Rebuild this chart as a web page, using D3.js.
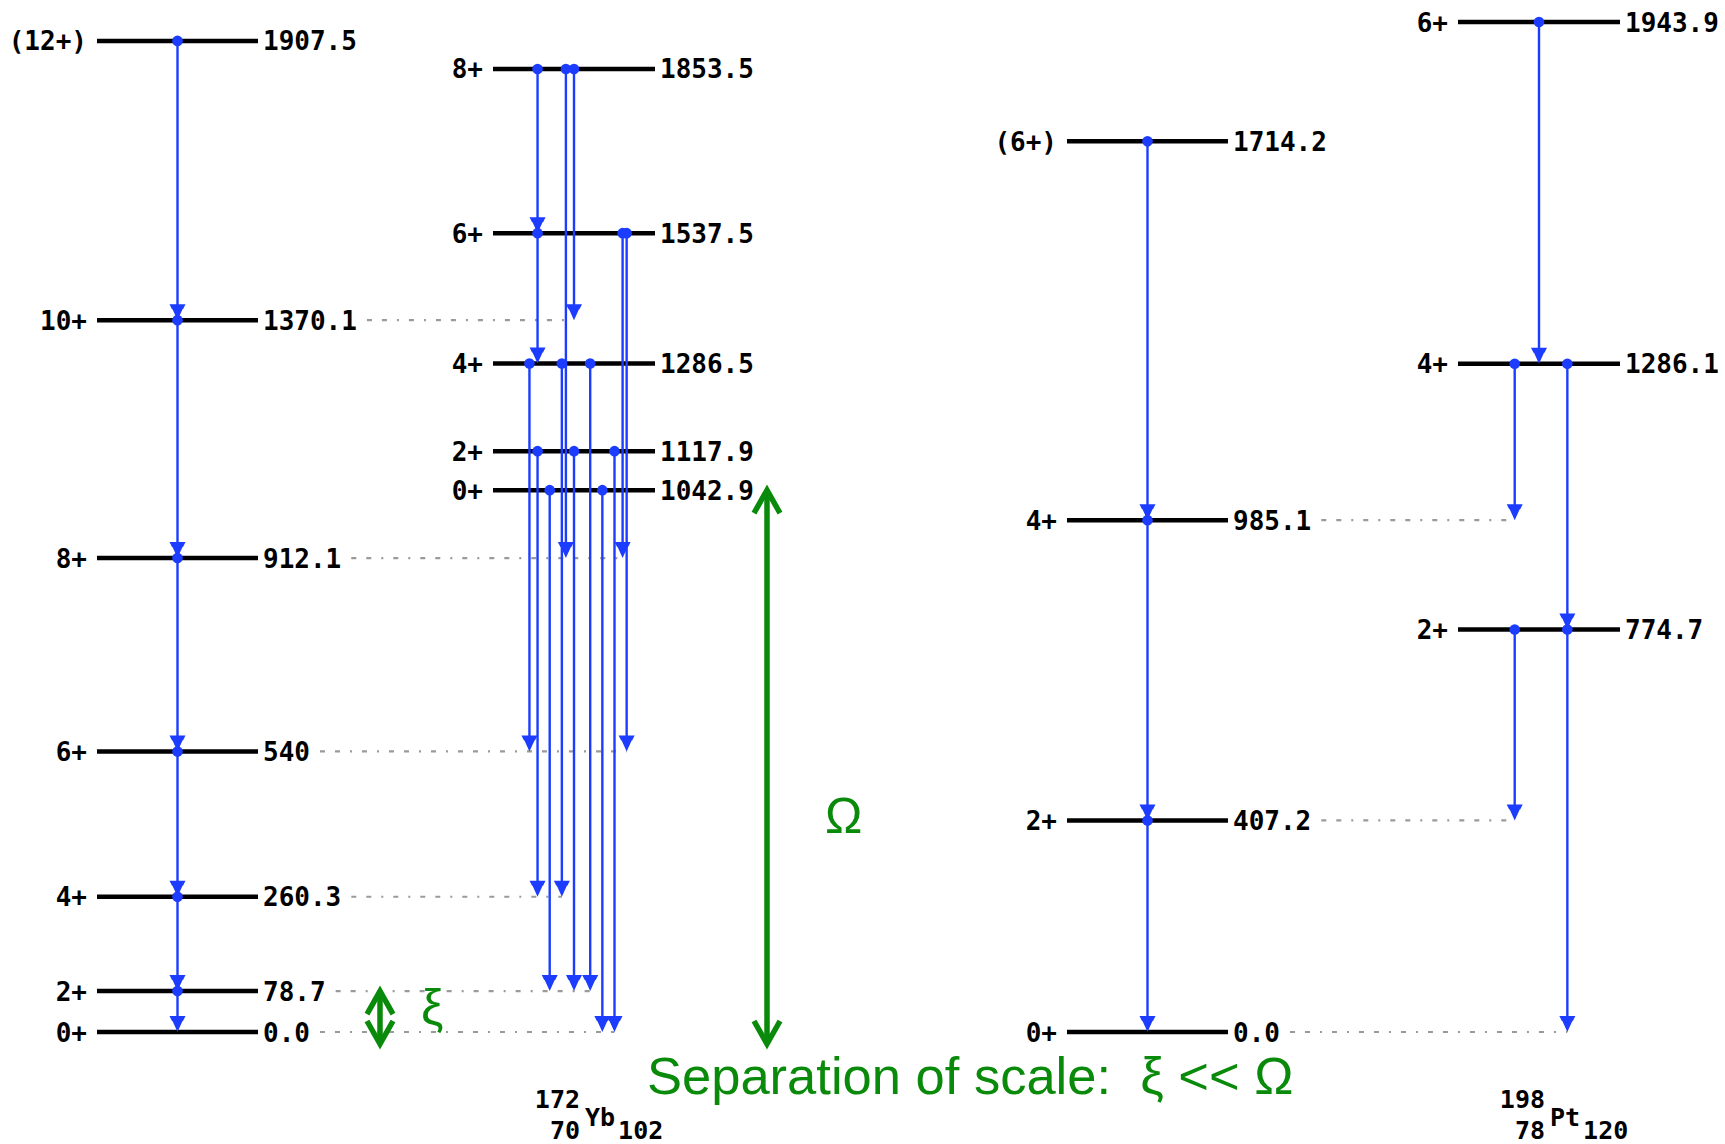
<!DOCTYPE html>
<html>
<head>
<meta charset="utf-8">
<script src="https://cdn.jsdelivr.net/npm/d3@7"></script>
<style>
  body { margin: 0; background: #fff; }
  svg { display: block; background: #fff; }
  .lvl { font-family: "DejaVu Sans Mono", monospace; font-weight: bold; font-size: 26px; fill: #000; }
  .nuc { font-family: "DejaVu Sans Mono", monospace; font-weight: bold; font-size: 25px; fill: #000; }
  .note { font-family: "Liberation Sans", Arial, sans-serif; fill: #0a8a0a; white-space: pre; }
</style>
</head>
<body>
<svg id="chart"></svg>
<script>
// 172Yb ground band
var ybBandSpins = ["0+", "2+", "4+", "6+", "8+", "10+", "(12+)"]
var ybBandEnergies = [0.0, 78.7, 260.3, 540, 912.1, 1370.1, 1907.5]
var ybBandLabels = ["0.0", "78.7", "260.3", "540", "912.1", "1370.1", "1907.5"]
// 172Yb side levels
var ybSideSpins = ["0+", "2+", "4+", "6+", "8+"]
var ybSideEnergies = [1042.9, 1117.9, 1286.5, 1537.5, 1853.5]
var ybSideLabels = ["1042.9", "1117.9", "1286.5", "1537.5", "1853.5"]
// 198Pt levels
var ptBandSpins = ["0+", "2+", "4+", "(6+)"]
var ptBandEnergies = [0.0, 407.2, 985.1, 1714.2]
var ptBandLabels = ["0.0", "407.2", "985.1", "1714.2"]
var ptSideSpins = ["2+", "4+", "6+"]
var ptSideEnergies = [774.7, 1286.1, 1943.9]
var ptSideLabels = ["774.7", "1286.1", "1943.9"]

// gamma transitions: [from keV, to keV, lane]
var ybBandGammas = [[1907.5, 1370.1, 20], [1370.1, 912.1, 20], [912.1, 540, 20],
  [540, 260.3, 20], [260.3, 78.7, 20], [78.7, 0.0, 20]]
var ybSideGammas = [[1853.5, 1537.5, 11], [1853.5, 912.1, 18], [1853.5, 1370.1, 20],
  [1537.5, 1286.5, 11], [1537.5, 912.1, 32], [1537.5, 540, 33],
  [1286.5, 540, 9], [1286.5, 260.3, 17], [1286.5, 78.7, 24],
  [1117.9, 260.3, 11], [1117.9, 78.7, 20], [1117.9, 0.0, 30],
  [1042.9, 78.7, 14], [1042.9, 0.0, 27]]
var ptBandGammas = [[1714.2, 985.1, 20], [985.1, 407.2, 20], [407.2, 0.0, 20]]
var ptSideGammas = [[1943.9, 1286.1, 20], [1286.1, 985.1, 14], [1286.1, 774.7, 27],
  [774.7, 407.2, 14], [774.7, 0.0, 27]]

var width = 1725
var height = 1144
var blue = "#1c3dff"
var green = "#0a8a0a"

var svg = d3.select("#chart").attr("width", width).attr("height", height)

var y = d3.scaleLinear().domain([0, 1943.9]).range([1032, 22])

var cols = [
  { spins: ybBandSpins, energies: ybBandEnergies, labels: ybBandLabels, gammas: ybBandGammas, x0: 97, x1: 258 },
  { spins: ybSideSpins, energies: ybSideEnergies, labels: ybSideLabels, gammas: ybSideGammas, x0: 493, x1: 655, base: 0 },
  { spins: ptBandSpins, energies: ptBandEnergies, labels: ptBandLabels, gammas: ptBandGammas, x0: 1067, x1: 1228 },
  { spins: ptSideSpins, energies: ptSideEnergies, labels: ptSideLabels, gammas: ptSideGammas, x0: 1458, x1: 1620, base: 2 }
]
cols.forEach(function (c) {
  c.lane = d3.scaleLinear().domain([0, 40]).range([c.x0, c.x1])
})

var gDots = svg.append("g")
var gLevels = svg.append("g")
var gGammas = svg.append("g")

// levels and labels
cols.forEach(function (c) {
  var idx = d3.range(c.energies.length)
  gLevels.selectAll(null).data(idx).enter().append("line")
    .attr("x1", c.x0).attr("x2", c.x1)
    .attr("y1", function (i) { return y(c.energies[i]) })
    .attr("y2", function (i) { return y(c.energies[i]) })
    .attr("stroke", "#000").attr("stroke-width", 4.5)
  gLevels.selectAll(null).data(idx).enter().append("text")
    .attr("class", "lvl")
    .attr("text-anchor", "end")
    .attr("x", c.x0 - 10)
    .attr("y", function (i) { return y(c.energies[i]) + 9.5 })
    .text(function (i) { return c.spins[i] })
  c.valueText = gLevels.selectAll(null).data(idx).enter().append("text")
    .attr("class", "lvl")
    .attr("x", c.x1 + 5)
    .attr("y", function (i) { return y(c.energies[i]) + 9.5 })
    .text(function (i) { return c.labels[i] })
})

// dotted guides from band levels to side-column arrows
cols.forEach(function (c) {
  if (c.base === undefined) return
  var band = cols[c.base]
  band.valueText.each(function (i) {
    var e = band.energies[i]
    var hits = c.gammas.filter(function (g) { return g[1] === e })
    if (!hits.length) return
    var xEnd = d3.max(hits, function (g) { return c.lane(g[2]) })
    var xStart = band.x1 + 5 + this.getComputedTextLength() + 10
    gDots.append("line")
      .attr("x1", xStart).attr("x2", xEnd)
      .attr("y1", y(e)).attr("y2", y(e))
      .attr("stroke", "#9a9a9a").attr("stroke-width", 2.2)
      .attr("stroke-dasharray", "5,10,5,10,2,10,5,10,2,10")
  })
})

// gamma arrows
var head = "M-8,-16L8,-16L5.5,-11L5,-11L0,0L-5,-11L-5.5,-11Z"
cols.forEach(function (c) {
  var g = gGammas.selectAll(null).data(c.gammas).enter().append("g")
  g.append("line")
    .attr("x1", function (d) { return c.lane(d[2]) })
    .attr("x2", function (d) { return c.lane(d[2]) })
    .attr("y1", function (d) { return y(d[0]) })
    .attr("y2", function (d) { return y(d[1]) - 4 })
    .attr("stroke", blue).attr("stroke-width", 2.4)
  g.append("circle")
    .attr("cx", function (d) { return c.lane(d[2]) })
    .attr("cy", function (d) { return y(d[0]) })
    .attr("r", 5.3).attr("fill", blue)
  g.append("path")
    .attr("d", head)
    .attr("transform", function (d) { return "translate(" + c.lane(d[2]) + "," + y(d[1]) + ")" })
    .attr("fill", blue)
})

// nuclide names under the side columns (one text, stacked parts)
function nuclide(c, mass, z, sym, n) {
  var cx = (c.x0 + c.x1) / 2
  var t = svg.append("text").attr("class", "nuc")
  t.append("tspan").attr("text-anchor", "end").attr("x", cx + 6).attr("y", 1108).text(mass)
  t.append("tspan").attr("text-anchor", "end").attr("x", cx + 6).attr("y", 1139).text(z)
  t.append("tspan").attr("text-anchor", "start").attr("x", cx + 11).attr("y", 1126).text(sym)
  t.append("tspan").attr("dx", 3).attr("y", 1139).text(n)
}
nuclide(cols[1], "172", "70", "Yb", "102")
nuclide(cols[3], "198", "78", "Pt", "120")

// green scale annotations
function doubleArrow(x, eTop) {
  var top = y(eTop) - 3
  var bot = y(0) + 15
  var a = svg.append("g").attr("fill", "none").attr("stroke", green)
    .attr("stroke-width", 5.5).attr("stroke-linejoin", "miter")
  a.append("line").attr("x1", x).attr("x2", x).attr("y1", top + 3).attr("y2", bot - 3)
  a.append("path").attr("d", "M" + (x - 13) + "," + (top + 26) + "L" + x + "," + (top + 3) + "L" + (x + 13) + "," + (top + 26))
  a.append("path").attr("d", "M" + (x - 13) + "," + (bot - 26) + "L" + x + "," + (bot - 3) + "L" + (x + 13) + "," + (bot - 26))
}
doubleArrow(380, 78.7)
doubleArrow(767, 1042.9)

svg.append("text").attr("class", "note").attr("x", 421).attr("y", 1024)
  .style("font-size", "50px").text("ξ")
svg.append("text").attr("class", "note").attr("x", 825).attr("y", 833)
  .style("font-size", "50px").text("Ω")
svg.append("text").attr("class", "note").attr("x", 647).attr("y", 1094)
  .style("font-size", "52.5px").text("Separation of scale:  ξ << Ω")
</script>
</body>
</html>
